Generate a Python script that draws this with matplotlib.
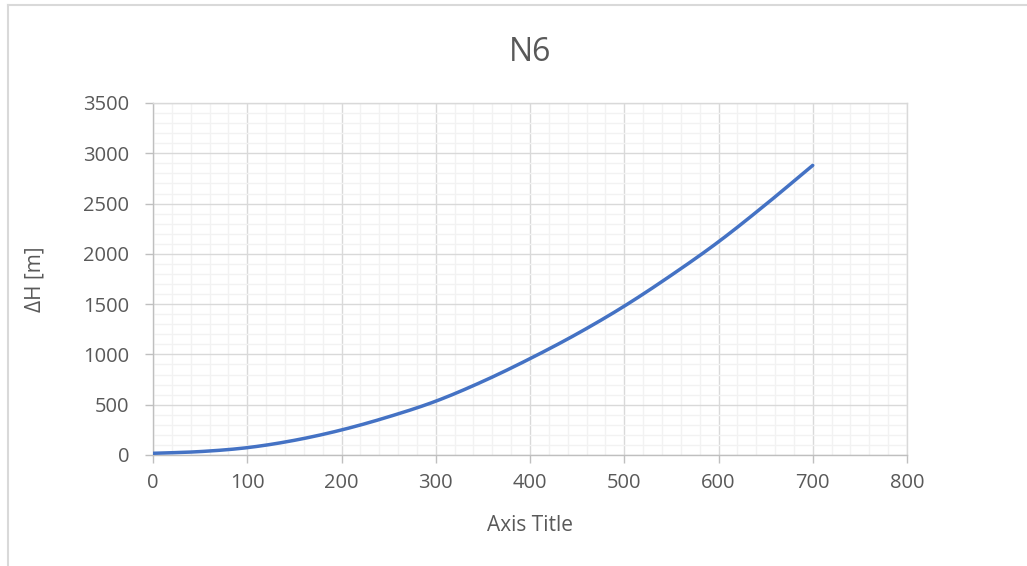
import matplotlib
matplotlib.use("Agg")
import matplotlib.pyplot as plt
import numpy as np
from matplotlib.lines import Line2D
from matplotlib.ticker import MultipleLocator

# Head rise versus flow for pump N6
flow = [0, 50, 100, 150, 200, 250, 300, 350, 400, 450, 500, 550, 600, 650, 700]
head = [17, 34, 73, 146, 249, 380, 535, 732, 958, 1205, 1480, 1788, 2120, 2490, 2880]

title = "N6"
x_title = "Axis Title"
y_title = "ΔH [m]"

text_color = "#595959"
major_grid = "#d9d9d9"
minor_grid = "#f2f2f2"
axis_color = "#bfbfbf"
line_color = "#4472C4"

plt.rcParams["font.family"] = ["Open Sans", "DejaVu Sans"]


def smooth_curve(xs, ys, steps=20):
    """Catmull-Rom smoothing through the given points (spreadsheet-style smoothed line)."""
    xs = np.asarray(xs, float)
    ys = np.asarray(ys, float)
    px = np.concatenate([[2 * xs[0] - xs[1]], xs, [2 * xs[-1] - xs[-2]]])
    py = np.concatenate([[2 * ys[0] - ys[1]], ys, [2 * ys[-1] - ys[-2]]])
    out_x, out_y = [], []
    t = np.linspace(0, 1, steps, endpoint=False)
    for i in range(1, len(px) - 2):
        for arr, out in ((px, out_x), (py, out_y)):
            p0, p1, p2, p3 = arr[i - 1], arr[i], arr[i + 1], arr[i + 2]
            out.extend(0.5 * ((2 * p1) + (-p0 + p2) * t
                              + (2 * p0 - 5 * p1 + 4 * p2 - p3) * t ** 2
                              + (-p0 + 3 * p1 - 3 * p2 + p3) * t ** 3))
    out_x.append(xs[-1])
    out_y.append(ys[-1])
    return np.array(out_x), np.array(out_y)


fig = plt.figure(figsize=(10.27, 5.66), dpi=100)
ax = fig.add_axes([153 / 1027, 1 - 455 / 566, (907 - 153) / 1027, (455 - 103) / 566])

sx, sy = smooth_curve(flow, head)
ax.plot(sx, sy, color=line_color, linewidth=2.5, solid_capstyle="round", zorder=3)

ax.set_xlim(0, 800)
ax.set_ylim(0, 3500)
ax.xaxis.set_major_locator(MultipleLocator(100))
ax.xaxis.set_minor_locator(MultipleLocator(20))
ax.yaxis.set_major_locator(MultipleLocator(500))
ax.yaxis.set_minor_locator(MultipleLocator(100))

ax.grid(which="minor", color=minor_grid, linewidth=1.0, zorder=0)
ax.grid(which="major", color=major_grid, linewidth=1.0, zorder=1)
ax.set_axisbelow(True)

for side in ("top", "right"):
    ax.spines[side].set_color(major_grid)
    ax.spines[side].set_linewidth(1.0)
for side in ("left", "bottom"):
    ax.spines[side].set_color(axis_color)
    ax.spines[side].set_linewidth(1.0)

ax.tick_params(which="major", length=6, width=1.0, color=axis_color,
               labelcolor=text_color, labelsize=14.5)
ax.tick_params(axis="x", pad=7)
ax.tick_params(axis="y", pad=11)
ax.tick_params(which="minor", length=0)

ax.set_title(title, color=text_color, fontsize=23, pad=30)
ax.set_xlabel(x_title, color=text_color, fontsize=15, labelpad=16)
ax.set_ylabel(y_title, color=text_color, fontsize=15, labelpad=27)

# Chart-area frame
fig.add_artist(Line2D([8 / 1027, 8 / 1027], [0, 1 - 5 / 566], transform=fig.transFigure,
                      color=major_grid, linewidth=1.5))
fig.add_artist(Line2D([8 / 1027, 1], [1 - 5 / 566, 1 - 5 / 566], transform=fig.transFigure,
                      color=major_grid, linewidth=1.5))

fig.savefig("out.png", dpi=100, facecolor="white")
